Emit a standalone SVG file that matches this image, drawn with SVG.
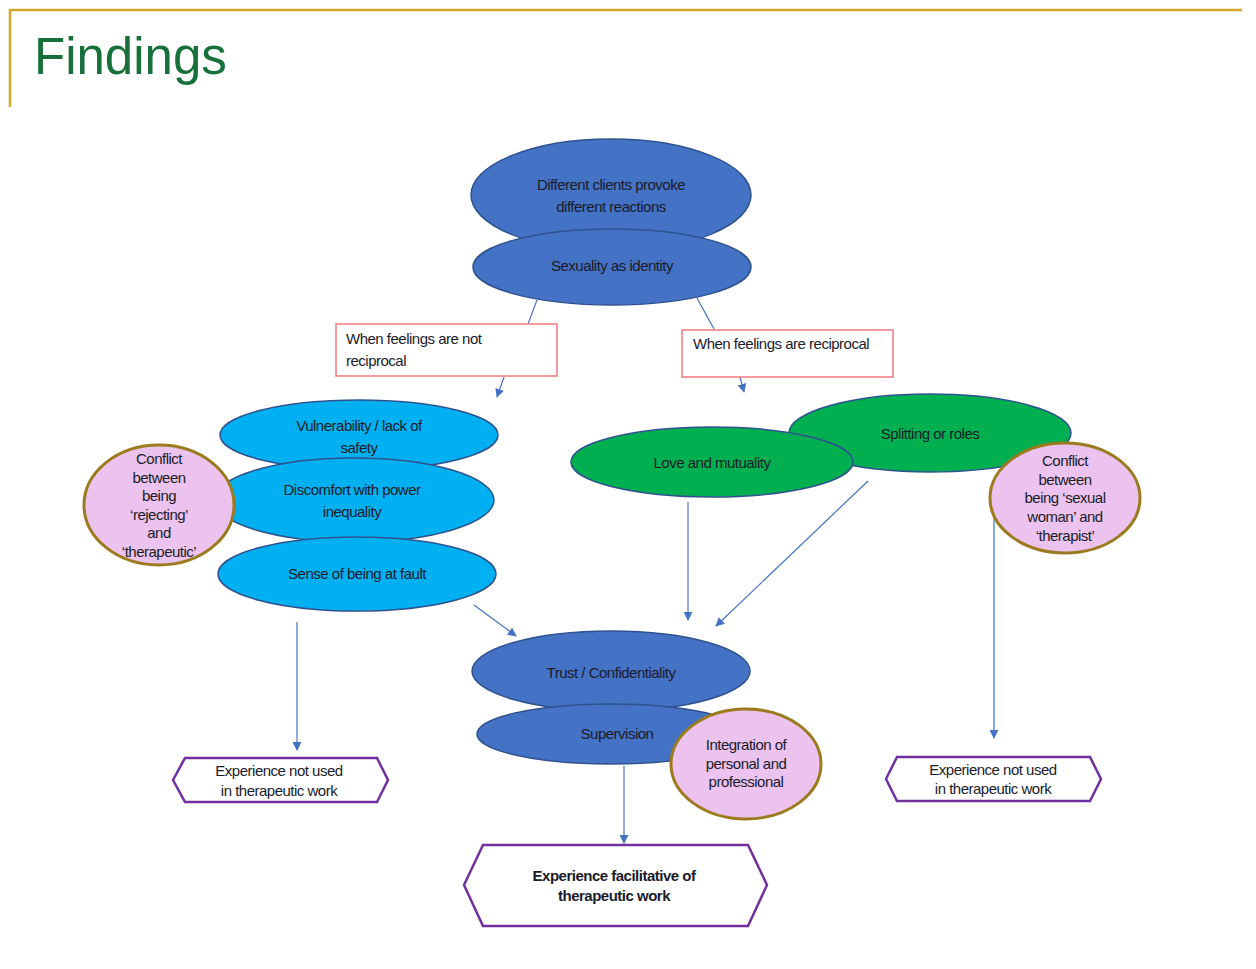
<svg xmlns="http://www.w3.org/2000/svg" width="1256" height="969" viewBox="0 0 1256 969">
<defs>
<style>
.t{font-family:"Liberation Sans",Arial,sans-serif;font-size:15px;fill:#1b1b2a;text-anchor:middle;letter-spacing:-0.5px}
.tl{font-family:"Liberation Sans",Arial,sans-serif;font-size:15px;fill:#1b1b2a;letter-spacing:-0.5px}
.blue{fill:#4472C4;stroke:#2F528F;stroke-width:1.5}
.cyan{fill:#00B0F0;stroke:#2F528F;stroke-width:1.5}
.green{fill:#00B050;stroke:#2F528F;stroke-width:1.5}
.pink{fill:#EBC3EE;stroke:#9C7A1E;stroke-width:3}
.box{fill:#fff;stroke:#F4777F;stroke-width:1.5}
.hex{fill:#fff;stroke:#7030A0;stroke-width:2.5}
.c{stroke:#4472C4;stroke-width:1.2;fill:none}
.ca{stroke:#4472C4;stroke-width:1.2;fill:none;marker-end:url(#ah)}
</style>
<marker id="ah" viewBox="0 0 10 10" refX="9" refY="5" markerWidth="9" markerHeight="9" orient="auto" markerUnits="userSpaceOnUse">
<path d="M0,0 L10,5 L0,10 z" fill="#4472C4"/>
</marker>
</defs>
<rect width="1256" height="969" fill="#fff"/>
<g id="frame">
<path d="M10,107 L10,10 L1242,10" fill="none" stroke="#D4A62A" stroke-width="2.5"/>
<text x="34" y="74" font-family="Liberation Sans,Arial,sans-serif" font-size="51" fill="#17703A">Findings</text>
</g>
<g id="connectors">
<line class="c" x1="537" y1="300" x2="528" y2="324"/>
<line class="c" x1="697" y1="298" x2="714" y2="329"/>
<line class="ca" x1="504" y1="377" x2="497" y2="397"/>
<line class="ca" x1="740" y1="377" x2="744" y2="392"/>
<line class="ca" x1="688" y1="502" x2="688" y2="620"/>
<line class="ca" x1="868" y1="481" x2="716" y2="626"/>
<line class="ca" x1="994" y1="512" x2="994" y2="738"/>
<line class="ca" x1="297" y1="622" x2="297" y2="750"/>
<line class="ca" x1="474" y1="605" x2="516" y2="636"/>
<line class="ca" x1="624" y1="766" x2="624" y2="843"/>
</g>
<g id="n-different">
<ellipse class="blue" cx="611" cy="195" rx="140" ry="56"/>
<text class="t" x="611" y="190">Different clients provoke</text>
<text class="t" x="611" y="212">different reactions</text>
</g>
<g id="n-sexuality">
<ellipse class="blue" cx="612" cy="267" rx="139" ry="38"/>
<text class="t" x="612" y="271">Sexuality as identity</text>
</g>
<g id="n-notrecip">
<rect class="box" x="336" y="324" width="221" height="52"/>
<text class="tl" x="346" y="344">When feelings are not</text>
<text class="tl" x="346" y="366">reciprocal</text>
</g>
<g id="n-recip">
<rect class="box" x="682" y="330" width="211" height="47"/>
<text class="tl" x="693" y="349">When feelings are reciprocal</text>
</g>
<g id="n-vulnerability">
<ellipse class="cyan" cx="359" cy="435" rx="139" ry="35"/>
<text class="t" x="359" y="431">Vulnerability / lack of</text>
<text class="t" x="359" y="453">safety</text>
</g>
<g id="n-discomfort">
<ellipse class="cyan" cx="354" cy="500" rx="140" ry="42"/>
<text class="t" x="352" y="495">Discomfort with power</text>
<text class="t" x="352" y="517">inequality</text>
</g>
<g id="n-fault">
<ellipse class="cyan" cx="357" cy="574" rx="139" ry="37"/>
<text class="t" x="357" y="579">Sense of being at fault</text>
</g>
<g id="n-conflict-left">
<ellipse class="pink" cx="159" cy="505" rx="75" ry="60"/>
<text class="t" x="159" y="464">Conflict</text>
<text class="t" x="159" y="483">between</text>
<text class="t" x="159" y="501">being</text>
<text class="t" x="159" y="520">‘rejecting’</text>
<text class="t" x="159" y="538">and</text>
<text class="t" x="159" y="557">‘therapeutic’</text>
</g>
<g id="n-splitting">
<ellipse class="green" cx="930" cy="433" rx="141" ry="39"/>
<text class="t" x="930" y="439">Splitting or roles</text>
</g>
<g id="n-love">
<ellipse class="green" cx="712" cy="462" rx="141" ry="35"/>
<text class="t" x="712" y="468">Love and mutuality</text>
</g>
<g id="n-conflict-right">
<ellipse class="pink" cx="1065" cy="498" rx="75" ry="55"/>
<text class="t" x="1065" y="466">Conflict</text>
<text class="t" x="1065" y="485">between</text>
<text class="t" x="1065" y="503">being ‘sexual</text>
<text class="t" x="1065" y="522">woman’ and</text>
<text class="t" x="1065" y="541">‘therapist’</text>
</g>
<g id="n-trust">
<ellipse class="blue" cx="611" cy="671" rx="139" ry="40"/>
<text class="t" x="611" y="678">Trust  / Confidentiality</text>
</g>
<g id="n-supervision">
<ellipse class="blue" cx="611" cy="734" rx="134" ry="30"/>
<text class="t" x="617" y="739">Supervision</text>
</g>
<g id="n-integration">
<ellipse class="pink" cx="746" cy="764" rx="75" ry="55"/>
<text class="t" x="746" y="750">Integration of</text>
<text class="t" x="746" y="769">personal and</text>
<text class="t" x="746" y="787">professional</text>
</g>
<g id="n-notused-left">
<polygon class="hex" points="173,780 185,758 377,758 388,780 377,802 185,802"/>
<text class="t" x="279" y="776">Experience not used</text>
<text class="t" x="279" y="796">in therapeutic work</text>
</g>
<g id="n-notused-right">
<polygon class="hex" points="886,779 897,757 1090,757 1101,779 1090,801 897,801"/>
<text class="t" x="993" y="775">Experience not used</text>
<text class="t" x="993" y="794">in therapeutic work</text>
</g>
<g id="n-facilitative">
<polygon class="hex" points="464,885 483,845 748,845 767,885 748,926 483,926"/>
<text class="t" x="614" y="881" font-weight="bold">Experience facilitative of</text>
<text class="t" x="614" y="901" font-weight="bold">therapeutic work</text>
</g>
</svg>
